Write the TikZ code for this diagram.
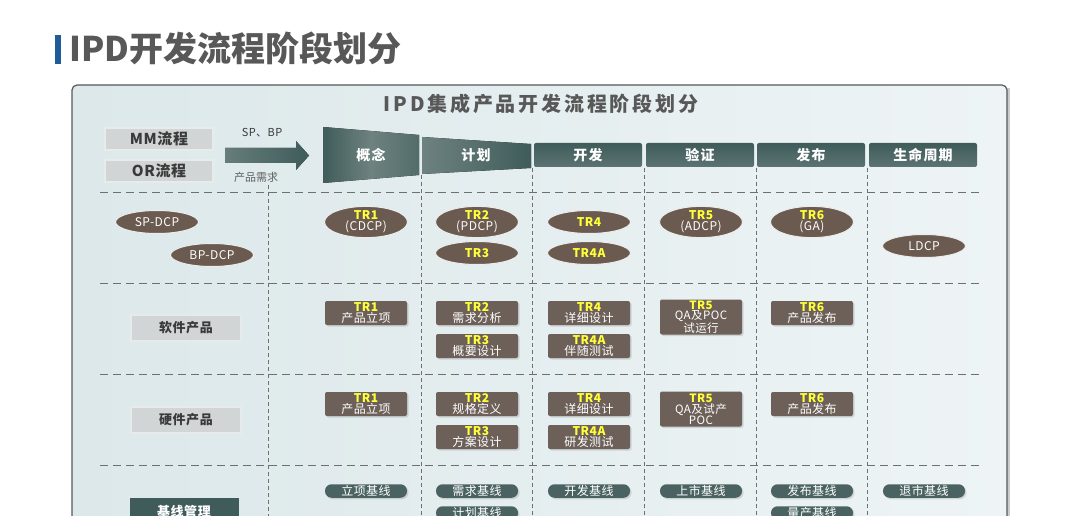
\documentclass[tikz,border=0pt]{standalone}
\usepackage{fontspec}
\setmainfont{Noto Sans CJK SC}
\usetikzlibrary{shapes.geometric,shadows}
\definecolor{titleg}{HTML}{585858}
\definecolor{titleb}{HTML}{1F5C98}
\definecolor{panelline}{HTML}{55595A}
\definecolor{panell}{HTML}{DCE8EA}
\definecolor{panelr}{HTML}{EEF4F5}
\definecolor{laneg}{HTML}{D2D5D5}
\definecolor{lanee}{HTML}{E9EBEB}
\definecolor{txtdark}{HTML}{3A3A3A}
\definecolor{phaseg}{HTML}{3F5C5A}
\definecolor{phasel}{HTML}{6E8280}
\definecolor{brn}{HTML}{6A5A4F}
\definecolor{brn2}{HTML}{6C6058}
\definecolor{teal2}{HTML}{4A6362}
\definecolor{trylw}{HTML}{FFFF3A}
\definecolor{sepg}{HTML}{6C7070}
\newcommand{\trlab}[1]{\textcolor{trylw}{\bfseries #1}}
\newcommand{\boxfont}{\fontsize{12}{10.8}\selectfont\addfontfeature{LetterSpace=4}}
\begin{document}
\begin{tikzpicture}[x=1pt,y=-1pt,
  lane/.style={rectangle, fill=laneg, draw=lanee, line width=2.5pt, minimum width=108pt, minimum height=22pt, font=\fontsize{15}{15}\selectfont\bfseries\addfontfeature{LetterSpace=4}, text=txtdark},
  phase/.style={rectangle, rounded corners=2pt, top color=phaseg, bottom color=phaseg!85!white, minimum width=108pt, minimum height=24pt, text=white, font=\fontsize{14}{14}\selectfont\bfseries\addfontfeature{LetterSpace=8}},
  dcp/.style={ellipse, fill=brn, draw=white!85!gray, line width=1pt, minimum width=83pt, minimum height=23pt, inner sep=0pt, text=white, align=center, font=\boxfont},
  trbox/.style={rectangle, rounded corners=2pt, fill=brn2, minimum width=82pt, minimum height=24pt, inner sep=0pt, text=white, align=center, font=\boxfont, drop shadow={opacity=0.25, shadow xshift=1.5pt, shadow yshift=-1.5pt}},
  trtall/.style={minimum height=35pt, font=\fontsize{11.5}{10.8}\selectfont\addfontfeature{LetterSpace=4}},
  base/.style={rectangle, rounded corners=6.5pt, fill=teal2, minimum width=82pt, minimum height=13.5pt, inner sep=0pt, text=white, font=\boxfont, drop shadow={opacity=0.25, shadow xshift=1.5pt, shadow yshift=-1.5pt}},
  sep/.style={draw=sepg, line width=0.8pt, dash pattern=on 8pt off 5pt},
  col/.style={draw=sepg, line width=0.8pt, dash pattern=on 4pt off 3pt}]

  \useasboundingbox (0,0) rectangle (1080,516);
  \fill[white] (0,0) rectangle (1080,516);

  \fill[titleb] (55,35) rectangle (61,64);
  \node[anchor=west, text=titleg, font=\fontsize{34}{34}\selectfont\bfseries] (title) at (66,48) {IPD开发流程阶段划分};

  \fill[gray!40] (75,88) rectangle (1010,548);
  \draw[panelline, line width=1.2pt, rounded corners=5pt, left color=panell, right color=panelr] (72,85) rectangle (1007,545);
  \node[text=titleg, font=\fontsize{20}{20}\selectfont\bfseries\addfontfeature{LetterSpace=14}] (ptitle) at (541,104) {IPD集成产品开发流程阶段划分};

  \begin{scope}[every node/.style={lane}]
    \node (mm) at (159,139) {MM流程};
    \node (or) at (159,171) {OR流程};
  \end{scope}

  \fill[left color=phaseg!80!white, right color=phaseg] (225,148) -- (296,148) -- (296,141) -- (309,155.5) -- (296,170) -- (296,163) -- (225,163) -- cycle;
  \node[font=\fontsize{11}{11}\selectfont\addfontfeature{LetterSpace=4}, text=txtdark] (sp) at (262,133) {SP、BP};
  \node[font=\fontsize{11}{11}\selectfont, text=txtdark!80!white] (pr) at (256,177) {产品需求};

  \fill[left color=phaseg, right color=phaseg!90!white, middle color=phasel] (323,127) -- (419,135) -- (419,175) -- (323,183) -- cycle;
  \fill[left color=phasel, right color=phaseg] (422,137) -- (531,144) -- (531,168) -- (422,174) -- cycle;
  \begin{scope}[every node/.style={text=white, font=\fontsize{14}{14}\selectfont\bfseries\addfontfeature{LetterSpace=8}}]
    \node (gn) at (371,155) {概念};
    \node (jh) at (476,155) {计划};
  \end{scope}

  \begin{scope}[every node/.style={phase}]
    \node (kf) at (588,155) {开发};
    \node (yz) at (700,155) {验证};
    \node (fb) at (811,155) {发布};
    \node (sm) at (923,155) {生命周期};
  \end{scope}

  \draw[col] (268,185) -- (268,540);
  \draw[col] (421,175) -- (421,540);
  \draw[col] (532,168) -- (532,540);
  \draw[col] (644,168) -- (644,540);
  \draw[col] (756,168) -- (756,540);
  \draw[col] (867,168) -- (867,540);

  \draw[sep] (100,192) -- (980,192);
  \draw[sep] (100,283) -- (980,283);
  \draw[sep] (100,374) -- (980,374);
  \draw[sep] (100,465) -- (980,465);

  \begin{scope}[every node/.style={dcp}]
    \node (spdcp) at (157,222) {SP-DCP};
    \node (bpdcp) at (212,255) {BP-DCP};
    \node (d1)  at (366,222) {\trlab{TR1}\\(CDCP)};
    \node (d2)  at (477,222) {\trlab{TR2}\\(PDCP)};
    \node (d3)  at (477,253) {\trlab{TR3}};
    \node (d4)  at (589,222) {\trlab{TR4}};
    \node (d4a) at (589,253) {\trlab{TR4A}};
    \node (d5)  at (701,222) {\trlab{TR5}\\(ADCP)};
    \node (d6)  at (812,222) {\trlab{TR6}\\(GA)};
    \node (ldcp) at (924,246) {LDCP};
  \end{scope}

  \node[lane, minimum width=110pt, minimum height=26pt, font=\fontsize{13}{13}\selectfont\bfseries\addfontfeature{LetterSpace=4}] (sw) at (186,328) {软件产品};
  \node[lane, minimum width=110pt, minimum height=26pt, font=\fontsize{13}{13}\selectfont\bfseries\addfontfeature{LetterSpace=4}] (hw) at (186,420) {硬件产品};
  \node[rectangle, fill=phaseg, minimum width=109pt, minimum height=28pt, text=white, font=\fontsize{13}{13}\selectfont\bfseries\addfontfeature{LetterSpace=4}] (bl) at (184,512) {基线管理};

  \begin{scope}[every node/.style={trbox}]
    \node (s1)  at (366,313) {\trlab{TR1}\\产品立项};
    \node (s2)  at (477,313) {\trlab{TR2}\\需求分析};
    \node (s3)  at (477,346) {\trlab{TR3}\\概要设计};
    \node (s4)  at (589,313) {\trlab{TR4}\\详细设计};
    \node (s4a) at (589,346) {\trlab{TR4A}\\伴随测试};
    \node[trtall] (s5) at (701,317) {\trlab{TR5}\\QA及POC\\试运行};
    \node (s6)  at (812,313) {\trlab{TR6}\\产品发布};

    \node (h1)  at (366,404) {\trlab{TR1}\\产品立项};
    \node (h2)  at (477,404) {\trlab{TR2}\\规格定义};
    \node (h3)  at (477,437) {\trlab{TR3}\\方案设计};
    \node (h4)  at (589,404) {\trlab{TR4}\\详细设计};
    \node (h4a) at (589,437) {\trlab{TR4A}\\研发测试};
    \node[trtall] (h5) at (701,409) {\trlab{TR5}\\QA及试产\\POC};
    \node (h6)  at (812,404) {\trlab{TR6}\\产品发布};
  \end{scope}

  \begin{scope}[every node/.style={base}]
    \node (b1) at (366,491) {立项基线};
    \node (b2) at (477,491) {需求基线};
    \node (b3) at (477,513) {计划基线};
    \node (b4) at (589,491) {开发基线};
    \node (b5) at (701,491) {上市基线};
    \node (b6) at (812,491) {发布基线};
    \node (b7) at (812,513) {量产基线};
    \node (b8) at (924,491) {退市基线};
  \end{scope}

\end{tikzpicture}
\end{document}
